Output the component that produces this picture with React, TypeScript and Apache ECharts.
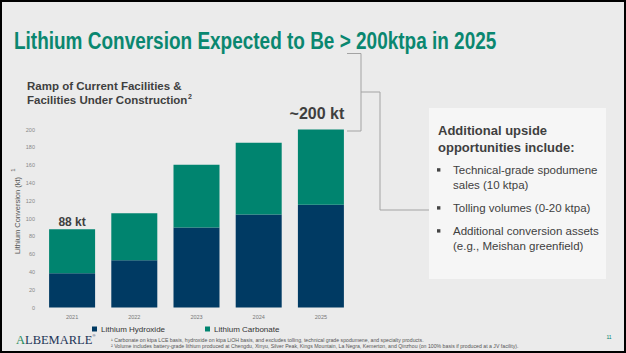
import React, { useEffect, useRef } from "react";
import * as echarts from "echarts";

const categories = ["2021", "2022", "2023", "2024", "2025"];
const hydroxide = [38.5, 53, 90, 104.5, 115.5];
const carbonate = [49.5, 53, 70.5, 80.5, 84.5];
const totalLabels = ["88 kt", "", "", "", "~200 kt"];
const seriesNames = ["Lithium Hydroxide", "Lithium Carbonate"];

const TEAL = "#00846f";
const NAVY = "#003a63";
const DARK = "#3f3f3f";
const FONT = "'Liberation Sans', Arial, sans-serif";

export default function App() {
  const ref = useRef<HTMLDivElement>(null);
  useEffect(() => {
    if (!ref.current) return;
    const chart = echarts.init(ref.current, undefined, { renderer: "svg" });
    const carbData = carbonate.map((v, i) => {
      if (!totalLabels[i]) return v;
      const big = i === categories.length - 1;
      return {
        value: v,
        label: {
          show: true,
          position: "top",
          formatter: totalLabels[i],
          fontSize: big ? 16 : 12,
          fontWeight: "bold",
          color: DARK,
          distance: big ? 8 : 1,
          offset: big ? [-4, 0] : [0, 0],
        },
      };
    });
    const boxText = (text: string, x: number, y: number, size: number, bold = false) => ({
      type: "text",
      x,
      y,
      style: {
        text,
        fontSize: size,
        fontWeight: bold ? "bold" : "normal",
        fill: DARK,
        fontFamily: FONT,
        verticalAlign: "middle",
      },
    });
    const bullet = (y: number) => ({
      type: "rect",
      shape: { x: 437, y: y - 1.8, width: 3.4, height: 3.4 },
      style: { fill: "#444" },
    });
    chart.setOption({
      animation: false,
      backgroundColor: "#ebebeb",
      textStyle: { fontFamily: FONT },
      grid: { left: 41, right: 274, top: 129.5, bottom: 45.5 },
      legend: {
        left: 87,
        top: 320,
        icon: "rect",
        itemWidth: 5,
        itemHeight: 5,
        itemGap: 40,
        textStyle: { fontSize: 8, color: "#333", padding: [0, 0, 0, -1] },
        data: seriesNames,
      },
      xAxis: {
        type: "category",
        data: categories,
        axisLine: { show: false },
        axisTick: { show: false },
        axisLabel: { fontSize: 5.5, color: "#777", margin: 6 },
      },
      yAxis: {
        type: "value",
        min: 0,
        max: 200,
        interval: 20,
        splitLine: { show: false },
        axisLabel: { fontSize: 5.5, color: "#888", margin: 6 },
        name: "Lithium Conversion (kt)",
        nameLocation: "middle",
        nameGap: 19,
        nameTextStyle: { fontSize: 7.5, color: "#555", padding: [0, 0, 0, 6] },
      },
      series: [
        {
          type: "bar",
          name: seriesNames[0],
          stack: "t",
          data: hydroxide,
          barWidth: 46,
          itemStyle: { color: NAVY },
        },
        {
          type: "bar",
          name: seriesNames[1],
          stack: "t",
          data: carbData,
          barWidth: 46,
          itemStyle: { color: TEAL },
        },
      ],
      graphic: [
        {
          type: "text",
          x: 14,
          y: 41,
          scaleX: 0.825,
          style: {
            text: "Lithium Conversion Expected to Be > 200ktpa in 2025",
            fontSize: 23,
            fontWeight: "bold",
            fill: "#0a8770",
            fontFamily: FONT,
            verticalAlign: "middle",
          },
        },
        {
          type: "text",
          x: 27,
          y: 86,
          style: {
            text: "Ramp of Current Facilities &",
            fontSize: 11.5,
            fontWeight: "bold",
            fill: DARK,
            fontFamily: FONT,
            verticalAlign: "middle",
          },
        },
        {
          type: "text",
          x: 27,
          y: 99.5,
          style: {
            text: "Facilities Under Construction",
            fontSize: 11.5,
            fontWeight: "bold",
            fill: DARK,
            fontFamily: FONT,
            verticalAlign: "middle",
          },
        },
        {
          type: "text",
          x: 188,
          y: 96,
          style: { text: "2", fontSize: 7, fontWeight: "bold", fill: DARK, fontFamily: FONT, verticalAlign: "middle" },
        },
        {
          type: "text",
          x: 13,
          y: 170,
          rotation: Math.PI / 2,
          style: { text: "1", fontSize: 6, fill: "#555", fontFamily: FONT, align: "center", verticalAlign: "middle" },
        },
        {
          type: "polyline",
          shape: { points: [[347, 53.5], [361, 53.5], [361, 131], [347, 131]] },
          style: { stroke: "#a3a3a3", lineWidth: 1, fill: "none" },
        },
        {
          type: "polyline",
          shape: { points: [[361, 92], [380, 92], [380, 210], [429, 210]] },
          style: { stroke: "#a3a3a3", lineWidth: 1, fill: "none" },
        },
        {
          type: "rect",
          shape: { x: 429, y: 108, width: 177, height: 171 },
          style: { fill: "#f6f6f6" },
        },
        boxText("Additional upside", 438, 130, 13, true),
        boxText("opportunities include:", 438, 147, 13, true),
        bullet(170),
        boxText("Technical-grade spodumene", 453, 170, 11.5),
        boxText("sales (10 ktpa)", 453, 185, 11.5),
        bullet(208),
        boxText("Tolling volumes (0-20 ktpa)", 453, 208, 11.5),
        bullet(231),
        boxText("Additional conversion assets", 453, 231, 11.5),
        boxText("(e.g., Meishan greenfield)", 453, 246, 11.5),
        {
          type: "text",
          x: 16,
          y: 340,
          style: {
            text: "{a|A}{b|LBEMARLE}{c|®}",
            fontFamily: "'Liberation Serif', 'Times New Roman', serif",
            verticalAlign: "middle",
            rich: {
              a: { fontSize: 12.5, fill: "#1b8a5a", fontFamily: "'Liberation Serif', serif" },
              b: { fontSize: 12.5, fill: "#1d3557", fontFamily: "'Liberation Serif', serif" },
              c: { fontSize: 4, fill: "#1d3557", verticalAlign: "top" },
            },
          },
        },
        {
          type: "text",
          x: 111,
          y: 340,
          style: {
            text: "¹ Carbonate on ktpa LCE basis, hydroxide on ktpa LiOH basis, and excludes tolling, technical grade spodumene, and specialty products.",
            fontSize: 5.2,
            fill: "#555",
            fontFamily: FONT,
            verticalAlign: "middle",
          },
        },
        {
          type: "text",
          x: 111,
          y: 346,
          style: {
            text: "² Volume includes battery-grade lithium produced at Chengdu, Xinyu, Silver Peak, Kings Mountain, La Negra, Kemerton, and Qinzhou (on 100% basis if produced at a JV facility).",
            fontSize: 5.2,
            fill: "#555",
            fontFamily: FONT,
            verticalAlign: "middle",
          },
        },
        {
          type: "text",
          x: 609,
          y: 337,
          style: { text: "11", fontSize: 5, fill: TEAL, fontFamily: FONT, align: "center", verticalAlign: "middle" },
        },
        {
          type: "rect",
          shape: { x: 1, y: 1, width: 624, height: 351 },
          style: { fill: "none", stroke: "#000", lineWidth: 2 },
        },
      ],
    });
    return () => chart.dispose();
  }, []);
  return <div ref={ref} style={{ position: "fixed", left: 0, top: 0, width: 626, height: 353 }} />;
}
